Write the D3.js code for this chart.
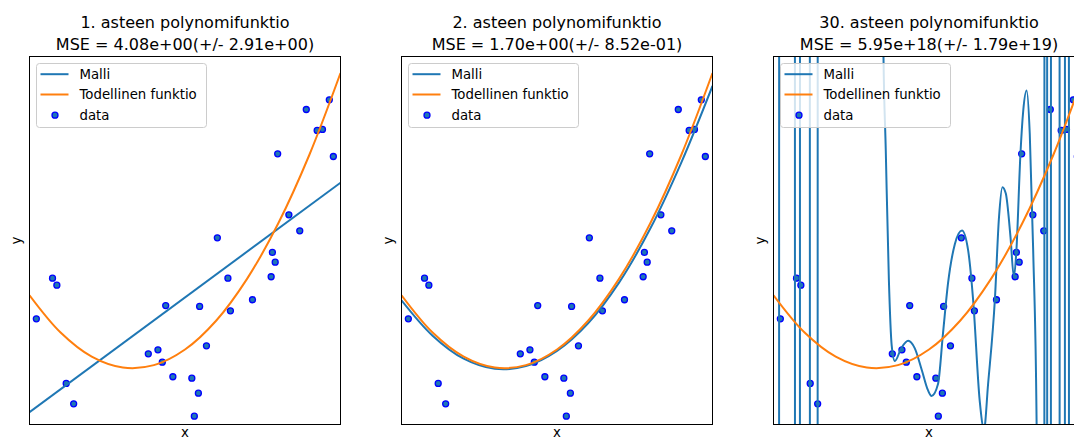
<!DOCTYPE html>
<html>
<head>
<meta charset="utf-8">
<script src="https://cdn.jsdelivr.net/npm/d3@7"></script>
<style>
  body { margin: 0; background: #fff; }
  text { font-family: "DejaVu Sans", sans-serif; fill: #000; }
</style>
</head>
<body>
<svg id="chart"></svg>
<script>
// titles and legend
var titles = ['1. asteen polynomifunktio', '2. asteen polynomifunktio', '30. asteen polynomifunktio'];
var mse_labels = ['MSE = 4.08e+00(+/- 2.91e+00)', 'MSE = 1.70e+00(+/- 8.52e-01)', 'MSE = 5.95e+18(+/- 1.79e+19)'];
var legend_labels = ['Malli', 'Todellinen funktio', 'data'];

// samples (same in every panel)
var data_x = [0.022, 0.074, 0.088, 0.118, 0.142, 0.382, 0.413, 0.427, 0.438, 0.461,
              0.522, 0.530, 0.543, 0.547, 0.569, 0.604, 0.638, 0.646, 0.717, 0.777,
              0.781, 0.790, 0.798, 0.834, 0.869, 0.977, 0.890, 0.925, 0.942, 0.964];
var data_y = [0.149, 0.590, 0.514, -0.554, -0.775, -0.232, -0.188, -0.323, 0.293, -0.481,
              -0.497, -0.910, -0.660, 0.283, -0.145, 1.029, 0.590, 0.236, 0.356, 0.606,
              0.870, 0.764, 1.942, 1.279, 1.105, 1.913, 2.424, 2.196, 2.207, 2.529];

// true function
var true_x = [0, 0.1, 0.2, 0.3, 0.4, 0.5, 0.6, 0.7, 0.8, 0.9, 1];
var true_y = [0.404, -0.001, -0.263, -0.381, -0.355, -0.185, 0.128, 0.586, 1.187, 1.932, 2.820];

// fitted models
var model1_x = [0, 1];
var model1_y = [-0.866, 1.628];

var model2_x = [0, 0.1, 0.2, 0.3, 0.4, 0.5, 0.6, 0.7, 0.8, 0.9, 1];
var model2_y = [0.350, -0.035, -0.285, -0.395, -0.365, -0.200, 0.100, 0.545, 1.130, 1.850, 2.680];

// degree 30 runs far off the chart; +-50 marks those excursions
var model30_x = [0, 0.016, 0.020, 0.067, 0.071, 0.083, 0.087, 0.115, 0.119, 0.140, 0.144, 0.348,
                 0.353, 0.361, 0.371, 0.380, 0.390, 0.411, 0.433, 0.454, 0.477, 0.497,
                 0.508, 0.529, 0.545, 0.561, 0.583, 0.606, 0.626, 0.642, 0.663, 0.677,
                 0.690, 0.712, 0.725, 0.736, 0.747, 0.762, 0.773, 0.781, 0.794, 0.803,
                 0.814, 0.824, 0.835, 0.846, 0.850,
                 0.869, 0.873, 0.878, 0.882, 0.890, 0.894, 0.918, 0.922, 0.935, 0.939,
                 0.948, 0.952, 0.975, 0.979, 1.0];
var model30_y = [-50, -50, 50, 50, -50, -50, 50, 50, -50, -50, 50, 50,
                 3.17, 1.98, 0.57, -0.14, -0.31, -0.17, -0.09, -0.17, -0.41, -0.63,
                 -0.69, -0.56, -0.01, 0.53, 0.96, 1.11, 0.89, 0.35, -0.74, -1.05,
                 -0.56, 0.37, 1.25, 1.58, 1.51, 1.04, 0.60, 0.89, 1.94, 2.41,
                 2.63, 2.16, 0.89, -0.99, -50,
                 -50, 50, 50, -50, -50, 50, 50, -50, -50, 50,
                 50, -50, -50, 50, 50];

var models = [[model1_x, model1_y], [model2_x, model2_y], [model30_x, model30_y]];

var width = 1074, height = 439;
var panel_left = [29.5, 401.5, 773.5];
var panel_top = 56.5, panel_w = 311, panel_h = 368;

var svg = d3.select('#chart')
  .attr('width', width)
  .attr('height', height);

svg.append('rect')
  .attr('width', width)
  .attr('height', height)
  .attr('fill', '#fff');

var zip = function(xs, ys) {
  return xs.map(function(d, i) { return [d, ys[i]]; });
};

draw_panel = function(i) {
  var left = panel_left[i];
  var x = d3.scaleLinear().domain([0, 1]).range([left, left + panel_w]);
  var y = d3.scaleLinear().domain([-1, 3]).range([panel_top + panel_h, panel_top]);

  svg.append('clipPath')
    .attr('id', 'clip' + i)
    .append('rect')
    .attr('x', left)
    .attr('y', panel_top)
    .attr('width', panel_w)
    .attr('height', panel_h);

  var g = svg.append('g').attr('clip-path', 'url(#clip' + i + ')');

  g.selectAll('circle')
    .data(zip(data_x, data_y))
    .enter()
    .append('circle')
    .attr('cx', function(d) { return x(d[0]); })
    .attr('cy', function(d) { return y(d[1]); })
    .attr('r', 3)
    .attr('fill', '#1f77b4')
    .attr('stroke', '#0000ff')
    .attr('stroke-width', 1.3);

  // smooth curves for the parabolas, monotone for the wild one
  var smooth = d3.line()
    .x(function(d) { return x(d[0]); })
    .y(function(d) { return y(d[1]); })
    .curve(d3.curveCatmullRom.alpha(0.5));
  var wild = d3.line()
    .x(function(d) { return x(d[0]); })
    .y(function(d) { return y(d[1]); })
    .curve(d3.curveMonotoneX);

  g.append('path')
    .attr('d', (i == 2 ? wild : smooth)(zip(models[i][0], models[i][1])))
    .attr('fill', 'none')
    .attr('stroke', '#1f77b4')
    .attr('stroke-width', 2);

  g.append('path')
    .attr('d', smooth(zip(true_x, true_y)))
    .attr('fill', 'none')
    .attr('stroke', '#ff7f0e')
    .attr('stroke-width', 2);

  // frame, no ticks
  svg.append('rect')
    .attr('x', left)
    .attr('y', panel_top)
    .attr('width', panel_w)
    .attr('height', panel_h)
    .attr('fill', 'none')
    .attr('stroke', '#000')
    .attr('stroke-width', 1);

  var cx = left + panel_w / 2;
  svg.append('text')
    .attr('x', cx).attr('y', 27.5)
    .attr('text-anchor', 'middle')
    .style('font-size', '16px')
    .text(titles[i]);
  svg.append('text')
    .attr('x', cx).attr('y', 49.5)
    .attr('text-anchor', 'middle')
    .style('font-size', '16px')
    .text(mse_labels[i]);

  svg.append('text')
    .attr('x', cx).attr('y', 437)
    .attr('text-anchor', 'middle')
    .style('font-size', '13.3px')
    .text('x');
  svg.append('text')
    .attr('transform', 'translate(' + (left - 9) + ',' + (panel_top + panel_h / 2) + ') rotate(-90)')
    .attr('text-anchor', 'middle')
    .style('font-size', '13.3px')
    .text('y');

  // legend
  var lg = svg.append('g')
    .attr('transform', 'translate(' + (left + 7) + ',' + (panel_top + 7) + ')');
  lg.append('rect')
    .attr('width', 170)
    .attr('height', 64)
    .attr('rx', 3)
    .attr('fill', '#fff')
    .attr('fill-opacity', 0.8)
    .attr('stroke', '#cccccc')
    .attr('stroke-width', 1);
  var rows = [10.7, 31, 51.7];
  var colors = ['#1f77b4', '#ff7f0e'];
  colors.forEach(function(c, j) {
    lg.append('line')
      .attr('x1', 4).attr('x2', 32)
      .attr('y1', rows[j]).attr('y2', rows[j])
      .attr('stroke', c)
      .attr('stroke-width', 2);
  });
  lg.append('circle')
    .attr('cx', 18.5).attr('cy', rows[2])
    .attr('r', 3)
    .attr('fill', '#1f77b4')
    .attr('stroke', '#0000ff')
    .attr('stroke-width', 1.3);
  lg.selectAll('text')
    .data(legend_labels)
    .enter()
    .append('text')
    .attr('x', 43)
    .attr('y', function(d, j) { return rows[j]; })
    .attr('dy', '0.35em')
    .style('font-size', '13.3px')
    .text(function(d) { return d; });
};

for (var i = 0; i < 3; i++) {
  draw_panel(i);
}
</script>
</body>
</html>
